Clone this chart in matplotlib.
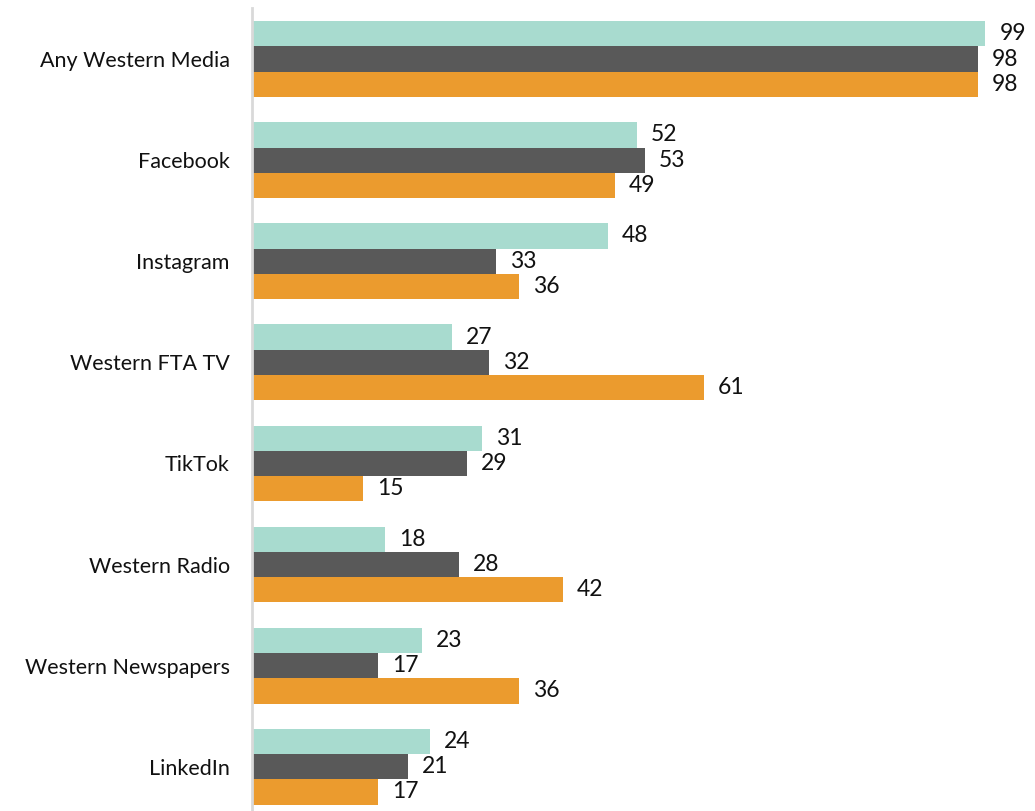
import numpy as np
import matplotlib.pyplot as plt

categories = ['Any Western Media', 'Facebook', 'Instagram', 'Western FTA TV',
              'TikTok', 'Western Radio', 'Western Newspapers', 'LinkedIn']
series_a = [99, 52, 48, 27, 31, 18, 23, 24]
series_b = [98, 53, 33, 32, 29, 28, 17, 21]
series_c = [98, 49, 36, 61, 15, 42, 36, 17]
colors = ['#A8DBCF', '#595959', '#EB9B2E']

plt.rcParams['font.family'] = ['Lato', 'DejaVu Sans']

fig = plt.figure(figsize=(10.35, 8.11), dpi=100)
ax = fig.add_axes([252 / 1035, 0, 1 - 252 / 1035, 1])

y = np.arange(len(categories))
h = 0.25
for i, (vals, c) in enumerate(zip([series_a, series_b, series_c], colors)):
    bars = ax.barh(y + (i - 1) * h, vals, height=h, color=c)
    ax.bar_label(bars, labels=[str(v) for v in vals], padding=10, fontsize=16.5, color='#111111')

ax.set_yticks(y)
ax.set_yticklabels(categories, fontsize=15.5, color='#111111')
ax.tick_params(axis='y', length=0, pad=16)
ax.set_xticks([])
ax.set_xlim(0, 105.7)
ax.set_ylim(7.438, -0.584)
for s in ['top', 'right', 'bottom']:
    ax.spines[s].set_visible(False)
ax.spines['left'].set_color('#D9D9D9')
ax.spines['left'].set_linewidth(2)
ax.spines['left'].set_bounds(7.438, -0.505)

fig.savefig('out.png', dpi=100)
